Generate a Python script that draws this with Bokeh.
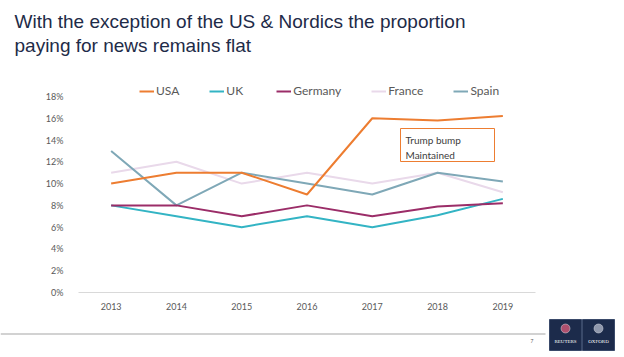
from bokeh.plotting import figure
from bokeh.models import (Range1d, FixedTicker, Legend, LegendItem, Label,
                          BoxAnnotation, LinearAxis)
from bokeh.embed import file_html
from bokeh.resources import INLINE

years = [2013, 2014, 2015, 2016, 2017, 2018, 2019]
usa = [10, 11, 11, 9, 16, 15.8, 16.2]
uk = [8, 7, 6, 7, 6, 7.1, 8.6]
germany = [8, 8, 7, 8, 7, 7.9, 8.2]
france = [11, 12, 10, 11, 10, 11, 9.2]
spain = [13, 8, 11, 10, 9, 11, 10.2]
series_names = ["USA", "UK", "Germany", "France", "Spain"]
series_values = [usa, uk, germany, france, spain]
series_colors = ["#ED7D31", "#33B4C4", "#9B2D68", "#E9D9EA", "#7FA8B7"]
y_ticks = [0, 2, 4, 6, 8, 10, 12, 14, 16, 18]
y_tick_labels = ["0%", "2%", "4%", "6%", "8%", "10%", "12%", "14%", "16%", "18%"]
title_lines = ["With the exception of the US & Nordics the proportion",
               "paying for news remains flat"]
note_lines = ["Trump bump", "Maintained"]

W, H = 624, 357
PL, PR, P0 = 78, 535, 292        # plot-area left/right and 0% line (pixels)
PX_YEAR = (PR - PL) / 7.0
PX_PCT = 10.89
X0 = 2012.5 - PL / PX_YEAR


def dx(px):   # canvas pixel -> x data
    return X0 + px / PX_YEAR


def dy(py):   # canvas pixel (from top) -> y data
    return (P0 - py) / PX_PCT


p = figure(width=W, height=H, output_backend="svg", toolbar_location=None,
           x_range=Range1d(dx(0), dx(W)), y_range=Range1d(dy(H), dy(0)),
           x_axis_location=None, y_axis_location=None,
           min_border=0, title=None)
p.outline_line_color = None
p.xgrid.visible = False
p.ygrid.visible = False

yaxis = LinearAxis(fixed_location=2012.5, ticker=FixedTicker(ticks=y_ticks),
                   major_label_overrides={t: l for t, l in zip(y_ticks, y_tick_labels)},
                   axis_line_color=None, major_tick_line_color=None,
                   minor_tick_line_color=None, major_label_standoff=9,
                   major_label_text_font="Lato", major_label_text_font_size="9px",
                   major_label_text_color="#595959", bounds=(0, 18))
xaxis = LinearAxis(fixed_location=0, ticker=FixedTicker(ticks=years),
                   axis_line_color="#D9D9D9", axis_line_width=1,
                   major_tick_line_color=None, minor_tick_line_color=None,
                   major_label_standoff=4, major_label_text_font="Lato",
                   major_label_text_font_size="9px",
                   major_label_text_color="#595959", bounds=(2012.5, 2019.5))
p.add_layout(yaxis, "left")
p.add_layout(xaxis, "below")

renderers = {}
for i in [3, 4, 1, 2, 0]:
    renderers[series_names[i]] = p.line(years, series_values[i],
                                        line_color=series_colors[i], line_width=2)

legend = Legend(items=[LegendItem(label=n, renderers=[renderers[n]])
                       for n in series_names],
                orientation="horizontal", location=(139, H - 90 - 8),
                border_line_color=None, background_fill_alpha=0,
                padding=0, margin=0, spacing=30, glyph_width=15,
                glyph_height=12, label_standoff=2,
                label_text_font="Lato", label_text_font_size="12px",
                label_text_color="#595959", label_height=12)
p.add_layout(legend, "center")

# note box
p.add_layout(BoxAnnotation(left=dx(400), right=dx(494), bottom=dy(161), top=dy(128),
                           fill_color="white", fill_alpha=1,
                           line_color="#ED7D31", line_alpha=1, line_width=1))
for k, t in enumerate(note_lines):
    p.add_layout(Label(x=dx(405), y=dy(139 + k * 15), text=t,
                       text_font="Lato", text_font_size="10px",
                       text_color="#404040", text_baseline="middle"))

# title
for k, t in enumerate(title_lines):
    p.add_layout(Label(x=dx(14), y=dy(21 + k * 24), text=t,
                       text_font="Liberation Sans", text_font_size="19px",
                       text_color="#1E2B48", text_baseline="middle"))

# footer rule and page number
p.add_layout(BoxAnnotation(left=dx(0), right=dx(545), bottom=dy(334), top=dy(333),
                           fill_color="#A6A6A6", fill_alpha=1, line_color=None))
p.add_layout(Label(x=dx(530), y=dy(340), text="7", text_font="Lato",
                   text_font_size="5px", text_color="#595959",
                   text_baseline="middle"))
# logos
p.quad(left=[dx(549), dx(582)], right=[dx(581), dx(614)],
       top=[dy(319), dy(319)], bottom=[dy(350), dy(350)],
       fill_color="#1C2B4B", line_color="#3A4A6A")
p.scatter(x=[dx(565), dx(598)], y=[dy(328), dy(328)], size=9, marker="circle",
          fill_color=["#B0506E", "#9098AC"], line_color="#D9DCE4", line_width=0.5)
for lx, txt in ((565, "REUTERS"), (598, "OXFORD")):
    p.add_layout(Label(x=dx(lx), y=dy(341), text=txt,
                       text_font="Liberation Serif", text_font_size="5px",
                       text_color="white", text_align="center",
                       text_baseline="middle"))

open("out.html", "w").write(file_html(p, INLINE))
